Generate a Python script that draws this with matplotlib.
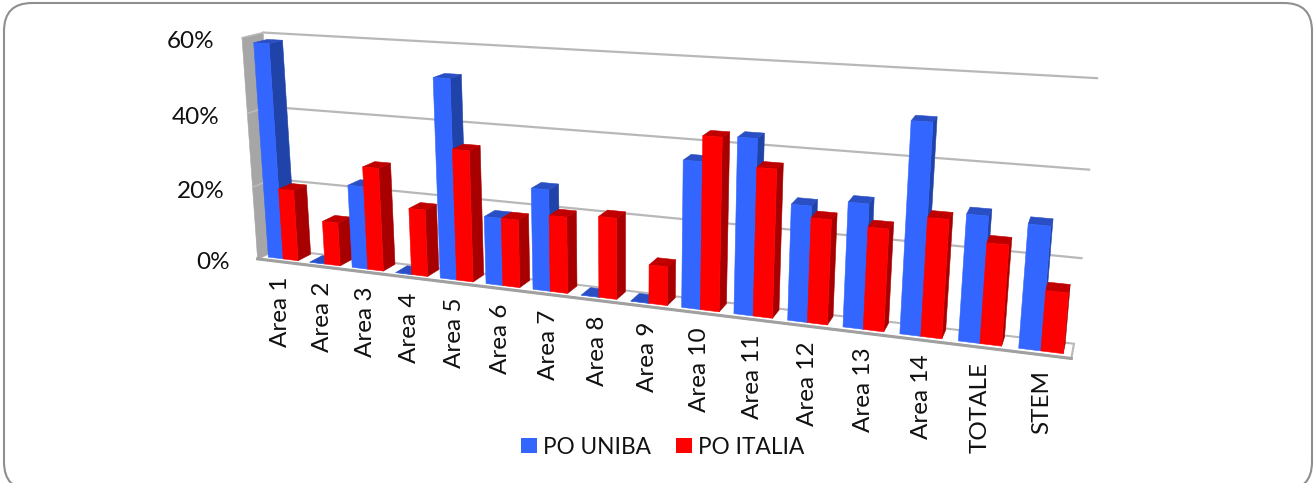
import numpy as np
import matplotlib
matplotlib.use("Agg")
import matplotlib.pyplot as plt
from matplotlib.patches import Polygon, FancyBboxPatch, Patch

plt.rcParams["font.family"] = ["Lato", "DejaVu Sans"]

# --------------------------
# Data
# --------------------------
categories = ["Area 1", "Area 2", "Area 3", "Area 4", "Area 5", "Area 6", "Area 7", "Area 8",
              "Area 9", "Area 10", "Area 11", "Area 12", "Area 13", "Area 14", "TOTALE", "STEM"]
po_uniba = [0.584, 0.0, 0.224, 0.0, 0.523, 0.177, 0.262, 0.0,
            0.0, 0.365, 0.43, 0.282, 0.299, 0.496, 0.296, 0.286]
po_italia = [0.195, 0.118, 0.277, 0.178, 0.344, 0.177, 0.197, 0.207,
             0.098, 0.427, 0.362, 0.254, 0.245, 0.28, 0.235, 0.14]
y_ticks = [0.0, 0.2, 0.4, 0.6]
y_tick_labels = ["0%", "20%", "40%", "60%"]

BLUE = ("#3366ff", "#2a4fc4", "#1f43a8")   # front, top, side
RED = ("#ff0000", "#c00000", "#a80000")
GRID = "#b8b8b8"
BAR_W = 0.36
W_FRONT, W_BACK = 0.25, 0.9

# --------------------------
# Camera: (category, value, depth) -> pixel
# --------------------------
calib = [
    (0, 0, 0, 257, 258), (16, 0, 0, 1071, 361), (0, 0, 1, 272, 253), (16, 0, 1, 1074, 341),
    (0, .6, 1, 267, 33), (16, .6, 1, 1097, 78), (0, .6, 0, 238, 38),
    (16, .4, 1, 1089, 169), (16, .2, 1, 1082, 257),
    (.5, 0, W_FRONT, 286, 257), (4.5, 0, W_FRONT, 458, 279), (9.5, 0, W_FRONT, 700, 310),
    (13.5, 0, W_FRONT, 920, 336), (14.5, 0, W_FRONT, 980, 345), (15.5, 0, W_FRONT, 1041, 352),
    (.86, 0, W_FRONT, 301, 259), (15.86, 0, W_FRONT, 1063, 354),
]
A, b = [], []
for u, v, w, x, y in calib:
    A.append([u, v, w, 1, 0, 0, 0, 0, -x * u, -x * v, -x * w])
    b.append(x)
    A.append([0, 0, 0, 0, u, v, w, 1, -y * u, -y * v, -y * w])
    b.append(y)
sol = np.linalg.lstsq(np.array(A, float), np.array(b, float), rcond=None)[0]
P = np.append(sol, 1.0).reshape(3, 4)


def project(u, v, w):
    p = P @ np.array([u, v, w, 1.0])
    return p[0] / p[2], p[1] / p[2]


def face(ax, pts, color, z=3, **kw):
    ax.add_patch(Polygon([project(*q) for q in pts], closed=True, facecolor=color,
                         edgecolor=kw.pop("edgecolor", color), linewidth=kw.pop("linewidth", 0.4), zorder=z, **kw))


def draw_bar(ax, u0, val, cols):
    u1 = u0 + BAR_W
    f, b_ = W_FRONT, W_BACK
    face(ax, [(u1, 0, f), (u1, 0, b_), (u1, val, b_), (u1, val, f)], cols[2])
    face(ax, [(u0, val, f), (u1, val, f), (u1, val, b_), (u0, val, b_)], cols[1])
    face(ax, [(u0, 0, f), (u1, 0, f), (u1, val, f), (u0, val, f)], cols[0])


# --------------------------
# Figure
# --------------------------
fig = plt.figure(figsize=(13.14, 4.83), dpi=100)
ax = fig.add_axes([0, 0, 1, 1])
ax.set_xlim(0, 1314)
ax.set_ylim(483, 0)
ax.axis("off")

ax.add_patch(FancyBboxPatch((32, 31), 1252, 431, boxstyle="round,pad=28,rounding_size=28", mutation_scale=1,
                            facecolor="white", edgecolor="#8f8f8f", linewidth=1.5, zorder=0))

n = len(categories)

# floor and left wall
face(ax, [(0, 0, 0), (n, 0, 0), (n, 0, 1), (0, 0, 1)], "white", z=1, edgecolor=GRID, linewidth=1.5)
ax.plot(*zip(project(0, 0, 0), project(n, 0, 0)), color="#a0a0a0", lw=2.2, zorder=1.5)
face(ax, [(0, 0, 0), (0, 0.6, 0), (0, 0.6, 1), (0, 0, 1)], "#a6a6a6", z=1)

# gridlines on the back wall, ticks on the side wall
for t, lab in zip(y_ticks, y_tick_labels):
    if t > 0:
        ax.plot(*zip(project(0, t, 1), project(n, t, 1)), color=GRID, lw=1.6, zorder=1)
        ax.plot(*zip(project(0, t, 0), project(0, t, 1)), color="#bdbdbd", lw=1.0, zorder=1.2)
    x, y = project(0, t, 0)
    ax.text(x - 28, y + 4, lab, ha="right", va="center", fontsize=17.5, color="#111111", zorder=5)

# bars, left to right
for i in range(n):
    draw_bar(ax, i + 0.5 - BAR_W, po_uniba[i], BLUE)
    draw_bar(ax, i + 0.5, po_italia[i], RED)
    x, y = project(i + 0.5, 0, 0)
    ax.text(x + 2, y + 15, categories[i], rotation=90, ha="center", va="top", fontsize=17.5, color="#111111", zorder=5)

handles = [Patch(facecolor=BLUE[0], label="PO UNIBA"), Patch(facecolor=RED[0], label="PO ITALIA")]
ax.legend(handles=handles, loc="center", bbox_to_anchor=(663 / 1314, 1 - 447 / 483), ncol=2, frameon=False,
          fontsize=16.3, handlelength=0.68, handleheight=0.68, handletextpad=0.3, columnspacing=1.1, labelcolor="#111111")

plt.savefig("out.png", dpi=100)
plt.close()
